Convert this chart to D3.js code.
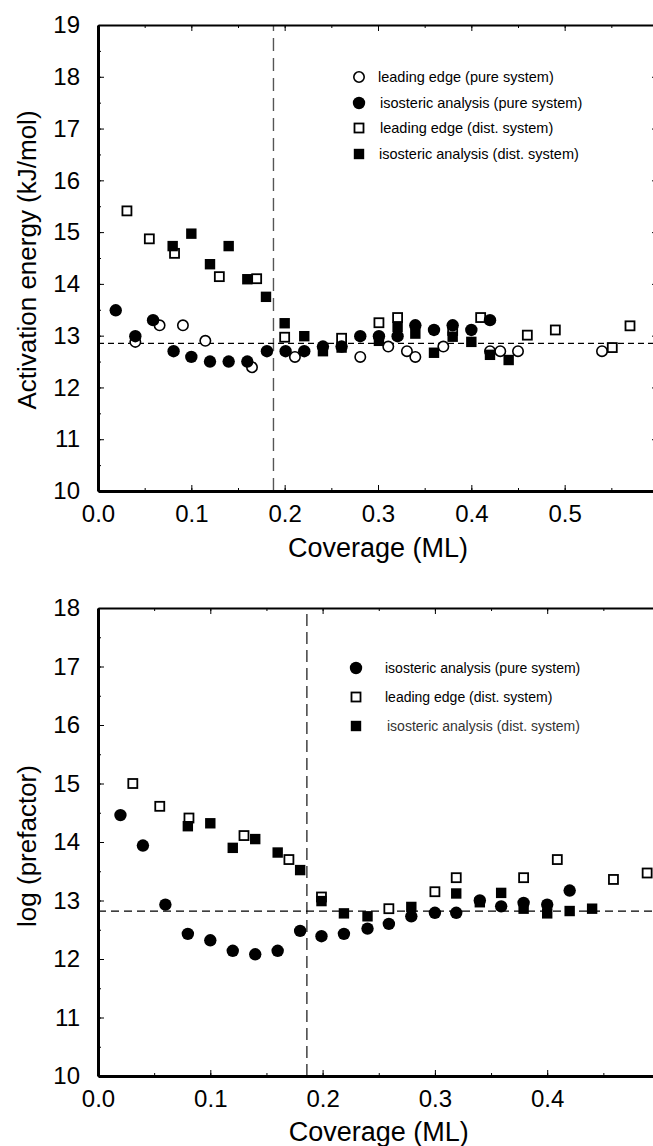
<!DOCTYPE html>
<html>
<head>
<meta charset="utf-8">
<script src="https://cdn.jsdelivr.net/npm/d3@7"></script>
<style>
  body { margin: 0; background: #fff; }
  svg { display: block; font-family: "Liberation Sans", Arial, sans-serif; }
</style>
</head>
<body>
<div id="chart"></div>
<script>
// ---- data: [coverage (ML), value] ----
// top panel: activation energy (kJ/mol)
const eaLeadingPure = [[0.040,12.88],[0.066,13.20],[0.091,13.20],[0.115,12.90],[0.165,12.39],[0.211,12.59],
  [0.281,12.59],[0.311,12.79],[0.331,12.70],[0.340,12.59],[0.370,12.79],[0.420,12.70],[0.431,12.70],[0.450,12.70],[0.540,12.70]];
const eaIsostericPure = [[0.019,13.49],[0.040,12.99],[0.059,13.30],[0.081,12.70],[0.100,12.59],[0.120,12.50],[0.140,12.50],
  [0.160,12.50],[0.181,12.70],[0.201,12.70],[0.221,12.70],[0.241,12.79],[0.261,12.79],[0.281,12.99],[0.301,12.99],
  [0.321,12.99],[0.340,13.20],[0.360,13.11],[0.380,13.20],[0.400,13.11],[0.420,13.30]];
const eaLeadingDist = [[0.031,15.41],[0.055,14.87],[0.082,14.59],[0.130,14.14],[0.170,14.10],[0.200,12.97],[0.261,12.95],
  [0.301,13.25],[0.321,13.35],[0.380,13.10],[0.410,13.35],[0.460,13.01],[0.490,13.11],[0.551,12.77],[0.570,13.19]];
const eaIsostericDist = [[0.080,14.73],[0.100,14.97],[0.120,14.38],[0.140,14.73],[0.160,14.09],[0.180,13.75],[0.200,13.24],
  [0.221,12.99],[0.241,12.70],[0.261,12.77],[0.301,12.90],[0.321,13.17],[0.340,13.04],[0.360,12.67],[0.380,12.98],
  [0.400,12.88],[0.420,12.63],[0.440,12.53]];

// bottom panel: log (prefactor)
const lpIsostericPure = [[0.020,14.46],[0.040,13.94],[0.060,12.93],[0.080,12.43],[0.100,12.32],[0.120,12.14],[0.140,12.08],
  [0.160,12.14],[0.180,12.48],[0.199,12.39],[0.219,12.43],[0.240,12.52],[0.259,12.60],[0.279,12.73],[0.300,12.79],
  [0.319,12.79],[0.340,13.00],[0.359,12.90],[0.379,12.96],[0.400,12.93],[0.420,13.17]];
const lpLeadingDist = [[0.031,15.00],[0.055,14.61],[0.081,14.41],[0.130,14.11],[0.170,13.70],[0.199,13.06],[0.259,12.86],
  [0.300,13.15],[0.319,13.39],[0.379,13.39],[0.409,13.70],[0.459,13.36],[0.489,13.47]];
const lpIsostericDist = [[0.080,14.27],[0.100,14.32],[0.120,13.90],[0.140,14.05],[0.160,13.82],[0.180,13.52],[0.199,12.99],
  [0.219,12.78],[0.240,12.73],[0.279,12.89],[0.319,13.12],[0.340,12.97],[0.359,13.13],[0.379,12.86],[0.400,12.78],
  [0.420,12.82],[0.440,12.86]];

const xTicksTop = [0.0, 0.1, 0.2, 0.3, 0.4, 0.5];
const xTicksBottom = [0.0, 0.1, 0.2, 0.3, 0.4];
const yTicksTop = [10, 11, 12, 13, 14, 15, 16, 17, 18, 19];
const yTicksBottom = [10, 11, 12, 13, 14, 15, 16, 17, 18];

const width = 653, height = 1146;

const svg = d3.select("#chart").append("svg")
  .attr("width", width)
  .attr("height", height);

function marker(g, type, cx, cy) {
  if (type === "openCircle") {
    g.append("circle").attr("cx", cx).attr("cy", cy).attr("r", 5.2)
      .attr("fill", "#fff").attr("stroke", "#000").attr("stroke-width", 1.6);
  } else if (type === "fillCircle") {
    g.append("circle").attr("cx", cx).attr("cy", cy).attr("r", 6.2).attr("fill", "#000");
  } else if (type === "openSquare") {
    g.append("rect").attr("x", cx - 4.5).attr("y", cy - 4.5).attr("width", 9).attr("height", 9)
      .attr("fill", "#fff").attr("stroke", "#000").attr("stroke-width", 1.8);
  } else {
    g.append("rect").attr("x", cx - 5.2).attr("y", cy - 5.2).attr("width", 10.4).attr("height", 10.4).attr("fill", "#000");
  }
}

function drawPanel(cfg) {
  const x = d3.scaleLinear().domain(cfg.xDomain).range([98, cfg.xRight]);
  const y = d3.scaleLinear().domain(cfg.yDomain).range([cfg.bottom, cfg.top]);
  const g = svg.append("g");

  // reference lines
  g.append("line")
    .attr("x1", x(cfg.xRef)).attr("x2", x(cfg.xRef))
    .attr("y1", y(cfg.yDomain[0])).attr("y2", y(cfg.yDomain[1]))
    .attr("stroke", cfg.vColor).attr("stroke-width", 1.4)
    .attr("stroke-dasharray", cfg.vDash);
  g.append("line")
    .attr("x1", x(cfg.xDomain[0])).attr("x2", x(cfg.xDomain[1]))
    .attr("y1", y(cfg.yRef)).attr("y2", y(cfg.yRef))
    .attr("stroke", "#000").attr("stroke-width", 1.2)
    .attr("stroke-dasharray", cfg.hDash);

  // data
  cfg.series.forEach(s => {
    const sg = g.append("g");
    s.data.forEach(d => marker(sg, s.type, x(d[0]), y(d[1])));
  });

  // axes: ticks point inward
  const minorX = d3.range(cfg.xDomain[0], cfg.xDomain[1] + 1e-9, 0.05);
  const minorY = d3.range(cfg.yDomain[0], cfg.yDomain[1] + 1e-9, 0.5);
  const majorXAll = d3.range(cfg.xDomain[0], cfg.xDomain[1] + 1e-9, 0.1);

  const axisStyle = (sel, w) => {
    sel.select(".domain").attr("stroke", "#000").attr("stroke-width", w);
    sel.selectAll(".tick line").attr("stroke", "#000").attr("stroke-width", 1);
  };
  const labelStyle = a => {
    a.select(".domain").remove();
    a.selectAll(".tick line").attr("stroke", "#000");
    a.selectAll("text").attr("fill", "#000")
      .attr("font-size", 24)
      .attr("font-family", "Liberation Sans, Arial, sans-serif");
  };

  // bottom
  g.append("g").attr("transform", `translate(0,${cfg.bottom})`)
    .call(d3.axisBottom(x).tickValues(minorX).tickSize(-3).tickSizeOuter(0).tickFormat(""))
    .call(a => axisStyle(a, 3));
  g.append("g").attr("transform", `translate(0,${cfg.bottom})`)
    .call(d3.axisBottom(x).tickValues(cfg.xTicks).tickSize(-6).tickSizeOuter(0).tickPadding(14).tickFormat(d3.format(".1f")))
    .call(labelStyle);
  // top
  g.append("g").attr("transform", `translate(0,${cfg.top})`)
    .call(d3.axisTop(x).tickValues(minorX).tickSize(-3).tickSizeOuter(0).tickFormat(""))
    .call(a => axisStyle(a, 2));
  g.append("g").attr("transform", `translate(0,${cfg.top})`)
    .call(d3.axisTop(x).tickValues(majorXAll).tickSize(-6).tickSizeOuter(0).tickFormat(""))
    .call(a => { a.select(".domain").remove(); a.selectAll(".tick line").attr("stroke", "#000"); });
  // left
  g.append("g").attr("transform", `translate(98,0)`)
    .call(d3.axisLeft(y).tickValues(minorY).tickSize(-3).tickSizeOuter(0).tickFormat(""))
    .call(a => axisStyle(a, 3));
  g.append("g").attr("transform", `translate(98,0)`)
    .call(d3.axisLeft(y).tickValues(cfg.yTicks).tickSize(-6).tickSizeOuter(0).tickPadding(18).tickFormat(d3.format("d")))
    .call(labelStyle);
  // right (mostly beyond the page edge)
  g.append("g").attr("transform", `translate(${cfg.xRight},0)`)
    .call(d3.axisRight(y).tickValues(cfg.yTicks).tickSize(-6).tickSizeOuter(0).tickFormat(""))
    .call(a => axisStyle(a, 3));

  // axis titles
  g.append("text")
    .attr("x", (98 + cfg.xRight) / 2).attr("y", cfg.xTitleY)
    .attr("text-anchor", "middle")
    .style("font-size", "27px")
    .text("Coverage (ML)");
  g.append("text")
    .attr("transform", `translate(36,${cfg.yTitleY}) rotate(-90)`)
    .attr("text-anchor", "middle")
    .style("font-size", "26px")
    .text(cfg.yTitle);

  // legend
  const lg = g.append("g");
  cfg.series.slice().sort((a, b) => a.legendOrder - b.legendOrder).forEach((s, i) => {
    const ly = cfg.legendRows[i];
    marker(lg, s.type, cfg.legendMarkerX, ly);
    lg.append("text")
      .attr("x", cfg.legendTextX[i]).attr("y", ly)
      .attr("dy", "0.35em")
      .style("font-size", cfg.legendFont)
      .attr("fill", s.legendColor || "#000")
      .text(s.label);
  });
}

drawPanel({
  xDomain: [0, 0.6], xRight: 658, yDomain: [10, 19], top: 25, bottom: 491,
  xTicks: xTicksTop, yTicks: yTicksTop,
  xRef: 0.188, yRef: 12.85, vColor: "#555", vDash: "13,7", hDash: "6,4",
  xTitleY: 557, yTitleY: 260, yTitle: "Activation energy (kJ/mol)",
  legendFont: "14.5px",
  legendMarkerX: 359, legendTextX: [378, 380, 380, 379], legendRows: [77, 103, 128, 154],
  series: [
    { type: "openCircle", data: eaLeadingPure, label: "leading edge (pure system)", legendOrder: 0 },
    { type: "openSquare", data: eaLeadingDist, label: "leading edge (dist. system)", legendOrder: 2 },
    { type: "fillSquare", data: eaIsostericDist, label: "isosteric analysis (dist. system)", legendOrder: 3 },
    { type: "fillCircle", data: eaIsostericPure, label: "isosteric analysis (pure system)", legendOrder: 1 }
  ]
});

drawPanel({
  xDomain: [0, 0.5], xRight: 659.5, yDomain: [10, 18], top: 608, bottom: 1076,
  xTicks: xTicksBottom, yTicks: yTicksBottom,
  xRef: 0.186, yRef: 12.82, vColor: "#333", vDash: "12,6", hDash: "8,5",
  xTitleY: 1141, yTitleY: 846, yTitle: "log (prefactor)",
  legendFont: "14px",
  legendMarkerX: 356, legendTextX: [385, 385, 387], legendRows: [668, 697, 726],
  series: [
    { type: "openSquare", data: lpLeadingDist, label: "leading edge (dist. system)", legendOrder: 1 },
    { type: "fillSquare", data: lpIsostericDist, label: "isosteric analysis (dist. system)", legendOrder: 2, legendColor: "#333" },
    { type: "fillCircle", data: lpIsostericPure, label: "isosteric analysis (pure system)", legendOrder: 0 }
  ]
});
</script>
</body>
</html>
